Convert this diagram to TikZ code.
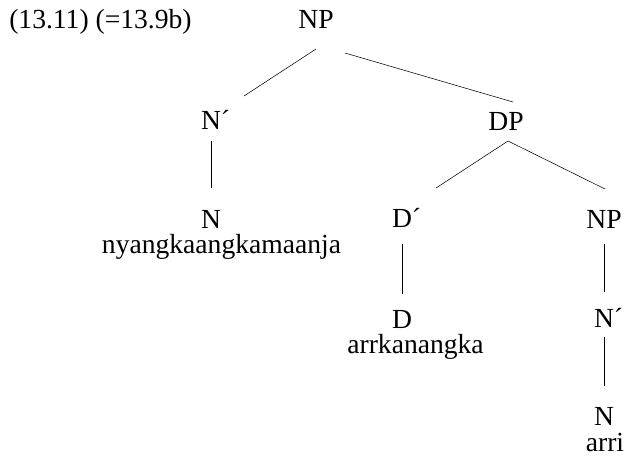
\documentclass[tikz,border=0pt]{standalone}
\usepackage{fontspec}
\setmainfont{Liberation Serif}
\begin{document}
\begin{tikzpicture}[x=0.75pt,y=-0.75pt,
	cat/.style={anchor=base,inner sep=0pt,font=\fontsize{20.7}{24}\selectfont},
	word/.style={cat}]
		\useasboundingbox (0,0) rectangle (627,462);
		\node[cat,anchor=base west] (ex) at (9,28) {(13.11) (=13.9b)};
		\node[cat] (np) at (316,28) {NP};
		\node[cat] (nbar) at (211,129) {N\rlap{´}};
		\node[cat] (dp) at (506,130) {DP};
		\node[cat] (n) at (211,228) {N};
		\node[word] (nw) at (221.5,253) {nyangkaangkamaanja};
		\node[cat] (dbar) at (402,227) {D\rlap{´}};
		\node[cat] (npb) at (604,228) {NP};
		\node[cat] (d) at (402,328) {D};
		\node[word] (dw) at (415.5,353) {arrkanangka};
		\node[cat] (nbarb) at (604,327) {N\rlap{´}};
		\node[cat] (nb) at (604,425) {N};
		\node[word] (nbw) at (605,451) {arri};
		\draw ([shift={(0,21)}]np.base)--([shift={(33,-33)}]nbar.base);
		\draw ([shift={(29,25)}]np.base)--([shift={(7,-28)}]dp.base);
		\draw ([shift={(0,12)}]nbar.base)--([shift={(0,-40)}]n.base);
		\draw ([shift={(2,11)}]dp.base)--([shift={(34,-39)}]dbar.base);
		\draw ([shift={(2,11)}]dp.base)--([shift={(1,-39)}]npb.base);
		\draw ([shift={(0,17)}]dbar.base)--([shift={(0,-34)}]d.base);
		\draw ([shift={(0,16)}]npb.base)--([shift={(0,-35)}]nbarb.base);
		\draw ([shift={(0,10)}]nbarb.base)--([shift={(0,-39)}]nb.base);
		\end{tikzpicture}
\end{document}
